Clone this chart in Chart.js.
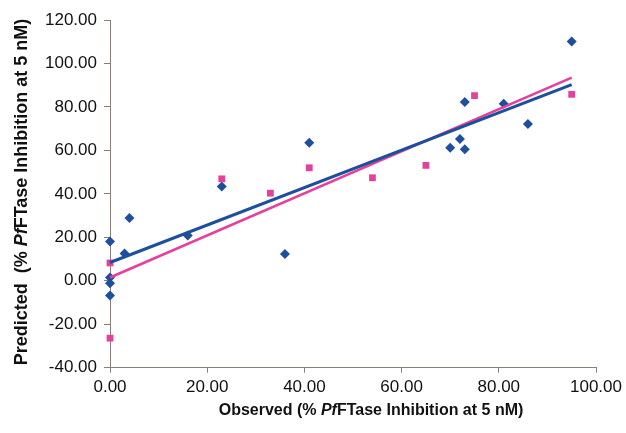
<!DOCTYPE html>
<html>
<head>
<meta charset="utf-8">
<script src="https://cdn.jsdelivr.net/npm/chart.js@4.4.1/dist/chart.umd.min.js"></script>
<style>
  html, body { margin: 0; padding: 0; background: #fff; }
  #wrap { width: 626px; height: 433px; position: relative; }
</style>
</head>
<body>
<div id="wrap"><canvas id="chart"></canvas></div>
<script>
// Beobachtet / vorhergesagt, Serie 1 (blaue Rauten)
const blueObserved  = [0, 0, 0, 0, 3, 4, 16, 23, 36, 41, 70, 72, 73, 73, 81, 86, 95];
const bluePredicted = [18.1, 1.5, -1.1, -6.8, 12.6, 28.9, 20.8, 43.4, 12.3, 63.5, 61.2, 65.2, 82.3, 60.5, 81.5, 72.1, 110.1];

// Serie 2 (pinke Quadrate)
const pinkObserved  = [0, 0, 23, 33, 41, 54, 65, 75, 95];
const pinkPredicted = [8.2, -26.4, 46.9, 40.3, 52.0, 47.4, 53.1, 85.2, 85.8];

// Trendlinien (Endpunkte)
const blueTrendX = [0, 95];
const blueTrendY = [8.4, 90.3];
const pinkTrendX = [0, 95];
const pinkTrendY = [1.5, 93.5];

// Achsen
const xTicks = [0, 20, 40, 60, 80, 100];
const yTicks = [-40, -20, 0, 20, 40, 60, 80, 100, 120];

const xTitle = [{ t: 'Observed (% ' }, { t: 'Pf', italic: true }, { t: 'FTase Inhibition at 5 nM)' }];
const yTitle = [{ t: 'Predicted  (% ' }, { t: 'Pf', italic: true }, { t: 'FTase Inhibition at 5 nM)' }];

const blue = '#1d4f9c';
const pink = '#e5409a';
const axisColor = '#8a7f78';

function toPoints(xs, ys)
{
    return xs.map((x, i) => ({ x: x, y: ys[i] }));
}

// Text mit gemischten Schnitten (kursives "Pf") zentriert zeichnen
function drawMixed(ctx, parts, size, cx, cy)
{
    const fontFor = p => (p.italic ? 'italic ' : '') + 'bold ' + size + 'px "Liberation Sans", Arial, sans-serif';
    let total = 0;
    parts.forEach(p =>
    {
        ctx.font = fontFor(p);
        total += ctx.measureText(p.t).width;
    });
    let x = cx - total / 2;
    ctx.textBaseline = 'middle';
    ctx.textAlign = 'left';
    parts.forEach(p =>
    {
        ctx.font = fontFor(p);
        ctx.fillText(p.t, x, cy);
        x += ctx.measureText(p.t).width;
    });
}

const titlePlugin = {
    id: 'axisTitles',
    afterDraw(chart)
    {
        const ctx = chart.ctx;
        ctx.save();
        ctx.fillStyle = '#111';
        drawMixed(ctx, xTitle, 16, 371, 411);
        ctx.translate(22, 192);
        ctx.rotate(-Math.PI / 2);
        drawMixed(ctx, yTitle, 18, 0, 0);
        ctx.restore();
    }
};

const tickFont = { family: '"Liberation Sans", Arial, sans-serif', size: 17 };

new Chart(document.getElementById('chart'), {
    type: 'scatter',
    data: {
        datasets: [
            {
                label: 'Trend 1',
                data: toPoints(blueTrendX, blueTrendY),
                showLine: true,
                borderColor: blue,
                borderWidth: 3,
                pointRadius: 0,
                order: 0
            },
            {
                label: 'Trend 2',
                data: toPoints(pinkTrendX, pinkTrendY),
                showLine: true,
                borderColor: pink,
                borderWidth: 2.5,
                pointRadius: 0,
                order: 0
            },
            {
                label: 'Serie 2',
                data: toPoints(pinkObserved, pinkPredicted),
                pointStyle: 'rect',
                pointRadius: 4.8,
                backgroundColor: pink,
                borderColor: pink,
                borderWidth: 0,
                order: 1
            },
            {
                label: 'Serie 1',
                data: toPoints(blueObserved, bluePredicted),
                pointStyle: 'rectRot',
                pointRadius: 5,
                backgroundColor: blue,
                borderColor: blue,
                borderWidth: 0,
                order: 2
            }
        ]
    },
    options: {
        responsive: true,
        maintainAspectRatio: false,
        animation: false,
        clip: false,
        layout: {
            padding: { left: 0, top: 20, right: 29.5, bottom: 30.3 }
        },
        plugins: {
            legend: { display: false },
            tooltip: { enabled: false }
        },
        scales: {
            x: {
                type: 'linear',
                min: 0,
                max: 100,
                afterBuildTicks: s => { s.ticks = xTicks.map(v => ({ value: v })); },
                afterFit: s => { s.height = 35; },
                ticks: {
                    color: '#111',
                    font: tickFont,
                    padding: 4,
                    maxRotation: 0,
                    callback: v => v.toFixed(2)
                },
                grid: {
                    drawOnChartArea: false,
                    drawTicks: true,
                    tickLength: 5,
                    color: axisColor
                },
                border: { color: axisColor, width: 1 }
            },
            y: {
                type: 'linear',
                min: -40,
                max: 120,
                afterBuildTicks: s => { s.ticks = yTicks.map(v => ({ value: v })); },
                afterFit: s => { s.width = 110; },
                ticks: {
                    color: '#111',
                    font: tickFont,
                    padding: 7,
                    callback: v => v.toFixed(2)
                },
                grid: {
                    drawOnChartArea: false,
                    drawTicks: true,
                    tickLength: 6,
                    color: axisColor
                },
                border: { color: axisColor, width: 1 }
            }
        }
    },
    plugins: [titlePlugin]
});
</script>
</body>
</html>
